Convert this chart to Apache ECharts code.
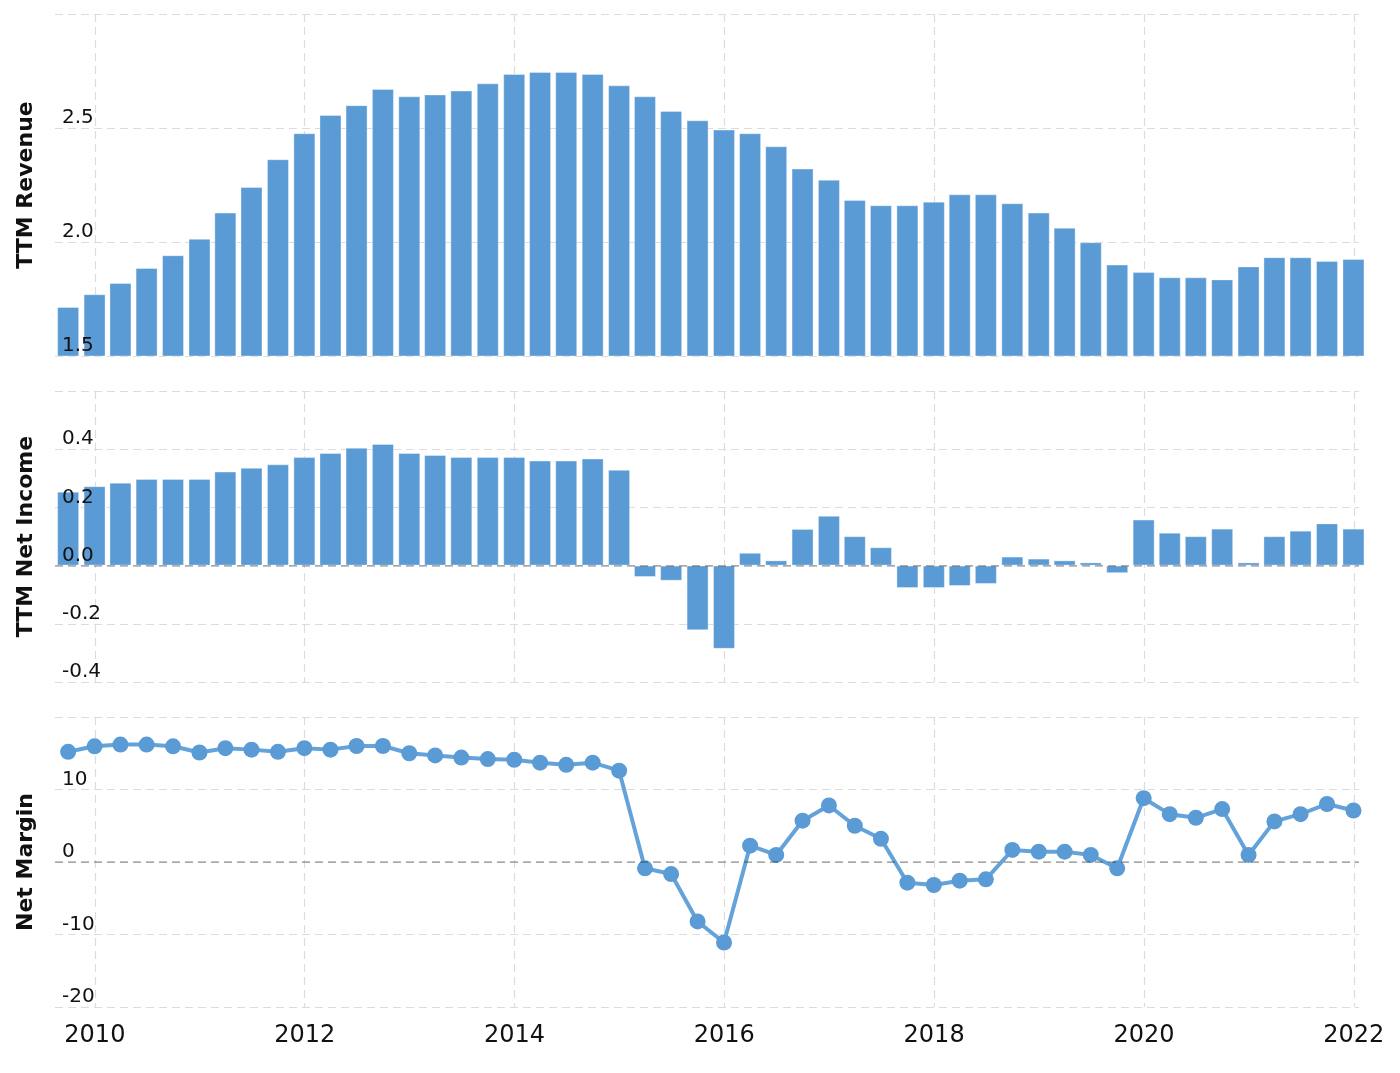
<!DOCTYPE html>
<html>
<head>
<meta charset="utf-8">
<script src="https://cdn.jsdelivr.net/npm/echarts@6/dist/echarts.min.js"></script>
<style>
html,body{margin:0;padding:0;background:#fff;}
#chart{width:1400px;height:1073px;}
</style>
</head>
<body>
<div id="chart"></div>
<script>
// Quarter-end dates
const quarters = [
  '2009-09-30','2009-12-31',
  '2010-03-31','2010-06-30','2010-09-30','2010-12-31',
  '2011-03-31','2011-06-30','2011-09-30','2011-12-31',
  '2012-03-31','2012-06-30','2012-09-30','2012-12-31',
  '2013-03-31','2013-06-30','2013-09-30','2013-12-31',
  '2014-03-31','2014-06-30','2014-09-30','2014-12-31',
  '2015-03-31','2015-06-30','2015-09-30','2015-12-31',
  '2016-03-31','2016-06-30','2016-09-30','2016-12-31',
  '2017-03-31','2017-06-30','2017-09-30','2017-12-31',
  '2018-03-31','2018-06-30','2018-09-30','2018-12-31',
  '2019-03-31','2019-06-30','2019-09-30','2019-12-31',
  '2020-03-31','2020-06-30','2020-09-30','2020-12-31',
  '2021-03-31','2021-06-30','2021-09-30','2021-12-31'
];
// TTM Revenue
const revenue = [1.715,1.771,1.820,1.886,1.942,2.014,2.129,2.241,2.363,2.477,2.557,2.600,2.671,
  2.639,2.647,2.664,2.696,2.737,2.746,2.746,2.737,2.687,2.639,2.575,2.534,2.493,2.477,2.420,
  2.322,2.273,2.184,2.161,2.161,2.177,2.209,2.209,2.170,2.129,2.063,1.999,1.901,1.868,1.845,
  1.845,1.836,1.893,1.933,1.933,1.917,1.925];
// TTM Net Income
const netIncome = [0.254,0.273,0.285,0.298,0.298,0.298,0.323,0.336,0.348,0.373,0.387,0.405,0.418,
  0.387,0.380,0.373,0.373,0.373,0.361,0.361,0.368,0.329,-0.039,-0.052,-0.222,-0.286,0.044,0.018,
  0.126,0.171,0.101,0.063,-0.077,-0.077,-0.070,-0.063,0.031,0.024,0.018,0.011,-0.026,0.158,0.113,
  0.101,0.127,0.011,0.101,0.120,0.145,0.127];
// Net Margin (%)
const netMargin = [15.2,15.96,16.2,16.2,15.96,15.1,15.7,15.5,15.2,15.7,15.5,16.0,16.0,
  15.0,14.7,14.4,14.2,14.1,13.7,13.4,13.7,12.6,-0.87,-1.66,-8.2,-11.1,2.25,0.97,5.7,7.8,5.0,3.2,
  -2.85,-3.17,-2.58,-2.39,1.66,1.43,1.43,0.97,-0.87,8.8,6.6,6.1,7.3,0.97,5.6,6.6,8.0,7.1];
const axisTitles = ['TTM Revenue','TTM Net Income','Net Margin'];

function toYear(s){
  const p = s.split('-').map(Number);
  const t = Date.UTC(p[0], p[1]-1, p[2]);
  const a = Date.UTC(p[0],0,1), b = Date.UTC(p[0]+1,0,1);
  return p[0] + (t - a) / (b - a);
}
const xs = quarters.map(toYear);
const pairs = arr => arr.map((v,i)=>[xs[i], v]);

const BLUE = '#5b9bd5';
const FONT = 'DejaVu Sans';
const gridDash = {color:'#dcdcdc', type:[8,5], width:1.2};
const grids = [
  {left:55, right:41, top:14, height:342},
  {left:55, right:41, top:391, height:291},
  {left:55, right:41, top:717, height:290}
];
const xMin = 2009.62, xMax = 2022.05;
const xAxes = grids.map((g,i)=>({
  type:'value', gridIndex:i, min:xMin, max:xMax, minInterval:2, maxInterval:2,
  axisLine:{show:false}, axisTick:{show:false},
  splitLine:{show:true, showMinLine:false, showMaxLine:false, lineStyle:gridDash},
  axisLabel:{show:i===2, showMinLabel:false, showMaxLabel:false, fontFamily:FONT,
    fontSize:24, color:'#111', margin:17, formatter:v=>String(Math.round(v))}
}));
const yCfg = [
  {min:1.5, max:3.0, interval:0.5, fmt:v=>v.toFixed(1)},
  {min:-0.4, max:0.6, interval:0.2, fmt:v=>v.toFixed(1)},
  {min:-20, max:20, interval:10, fmt:v=>String(Math.round(v))}
];
// grid-line axes (behind series)
const yAxesGrid = yCfg.map((c,i)=>({
  type:'value', gridIndex:i, position:'left', min:c.min, max:c.max, interval:c.interval,
  name:axisTitles[i], nameLocation:'middle', nameRotate:90, nameGap:18,
  nameTextStyle:{fontFamily:FONT, fontWeight:'bold', fontSize:22, color:'#111'},
  axisLine:{show:false}, axisTick:{show:false},
  splitLine:{show:true, lineStyle:gridDash},
  axisLabel:{show:false}
}));
// label axes (in front of series)
const yAxesLabel = yCfg.map((c,i)=>({
  type:'value', gridIndex:i, position:'left', offset:0, z:10,
  min:c.min, max:c.max, interval:c.interval,
  axisLine:{show:false}, axisTick:{show:false}, splitLine:{show:false},
  axisLabel:{inside:true, margin:7, verticalAlign:'bottom', padding:[0,0,0,0],
    showMaxLabel:false, fontFamily:FONT, fontSize:20, color:'#111', formatter:c.fmt}
}));
const zeroLine = {
  silent:true, symbol:['none','none'], label:{show:false},
  lineStyle:{color:'rgba(0,0,0,0.32)', type:[8,5], width:1.5},
  data:[{yAxis:0}]
};
const barStyle = {color:BLUE, borderColor:'rgba(255,255,255,0.35)', borderWidth:1};

const chart = echarts.init(document.getElementById('chart'), null, {renderer:'canvas'});
chart.setOption({
  animation:false,
  backgroundColor:'#fff',
  grid:grids,
  xAxis:xAxes,
  yAxis:yAxesGrid.concat(yAxesLabel),
  series:[
    {type:'bar', xAxisIndex:0, yAxisIndex:0, data:pairs(revenue), barWidth:22, itemStyle:barStyle},
    {type:'bar', xAxisIndex:1, yAxisIndex:1, data:pairs(netIncome), barWidth:22, itemStyle:barStyle, markLine:zeroLine},
    {type:'line', xAxisIndex:2, yAxisIndex:2, data:pairs(netMargin), symbol:'circle', symbolSize:16,
      lineStyle:{color:'#64a2da', width:4}, itemStyle:{color:BLUE}, markLine:zeroLine}
  ]
});
</script>
</body>
</html>
